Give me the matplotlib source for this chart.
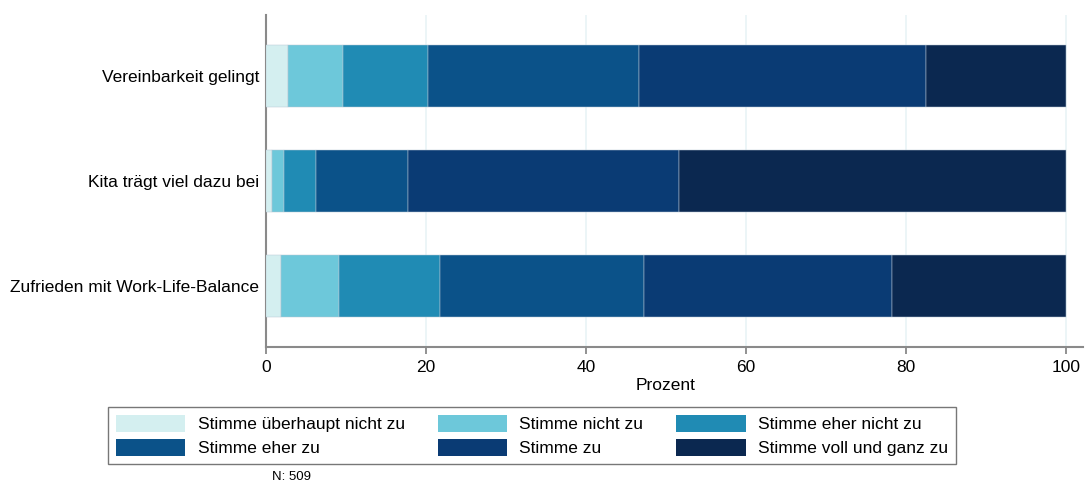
import matplotlib
matplotlib.use("Agg")
import matplotlib.pyplot as plt
import matplotlib.transforms as mtransforms
import numpy as np

plt.rcParams['font.family'] = ['Liberation Sans', 'DejaVu Sans']

categories = ["Vereinbarkeit gelingt", "Kita trägt viel dazu bei", "Zufrieden mit Work-Life-Balance"]
levels = ["Stimme überhaupt nicht zu", "Stimme nicht zu", "Stimme eher nicht zu",
          "Stimme eher zu", "Stimme zu", "Stimme voll und ganz zu"]
# percentages per category (rows) for each level (columns)
values = {
    "Vereinbarkeit gelingt":            [2.75, 6.85, 10.7, 26.3, 35.9, 17.5],
    "Kita trägt viel dazu bei":         [0.8, 1.4, 4.0, 11.5, 33.9, 48.4],
    "Zufrieden mit Work-Life-Balance":  [1.9, 7.2, 12.7, 25.5, 31.0, 21.7],
}
colors = ["#d4eff0", "#6dc8da", "#208bb4", "#0b5289", "#0a3b74", "#0b2850"]
xticks = [0, 20, 40, 60, 80, 100]
n_text = "N: 509"

fig = plt.figure(figsize=(10.85, 4.83), dpi=100)
ax = fig.add_axes([266/1085, 1-347/483, (1083-266)/1085, (347-15)/483])

ypos = np.arange(len(categories))[::-1]
left = np.zeros(len(categories))
bars = []
for j, lev in enumerate(levels):
    w = np.array([values[c][j] for c in categories])
    b = ax.barh(ypos, w, left=left, height=0.59, color=colors[j], label=lev,
                edgecolor="#b9c6d4", linewidth=0.35, zorder=3)
    bars.append(b)
    left += w

ax.set_xlim(0, (1083-266)/8)
ax.set_ylim(-0.58, 2.58)
ax.set_yticks(ypos)
ax.set_yticklabels(categories, fontsize=12.5)
ax.set_xticks(xticks)
ax.set_xticklabels([str(t) for t in xticks], fontsize=12.5)
ax.tick_params(axis='y', length=0, pad=5)
ax.tick_params(axis='x', length=5, width=1.2, color="#7f7f7f", pad=4)
for s in ["top", "right"]:
    ax.spines[s].set_visible(False)
for s in ["left", "bottom"]:
    ax.spines[s].set_color("#8a8a8a")
    ax.spines[s].set_linewidth(1.5)
ax.grid(axis='x', color="#e9f3f6", linewidth=1.2, zorder=0)
ax.set_axisbelow(True)

trans = mtransforms.blended_transform_factory(ax.transData, fig.transFigure)
ax.text(50, 1-385/483, "Prozent", transform=trans, ha="center", va="center", fontsize=12.5)

# legend fills row-wise in the reference: reorder for column-major filling
order = [0, 3, 1, 4, 2, 5]
leg = fig.legend([bars[i] for i in order], [levels[i] for i in order],
                 loc="center", bbox_to_anchor=(532/1085, 1-435.5/483), ncol=3,
                 fontsize=12.5, frameon=True, fancybox=False, handlelength=4.0,
                 handleheight=1.2, handletextpad=0.7, columnspacing=1.9,
                 borderpad=0.45, labelspacing=0.35, edgecolor="#555555")
leg.get_frame().set_linewidth(1.0)
for h in leg.legend_handles:
    h.set_edgecolor("none")

fig.text(272/1085, 1-477/483, n_text, fontsize=9.5, ha="left", va="center")

fig.savefig("out.png", dpi=100)
